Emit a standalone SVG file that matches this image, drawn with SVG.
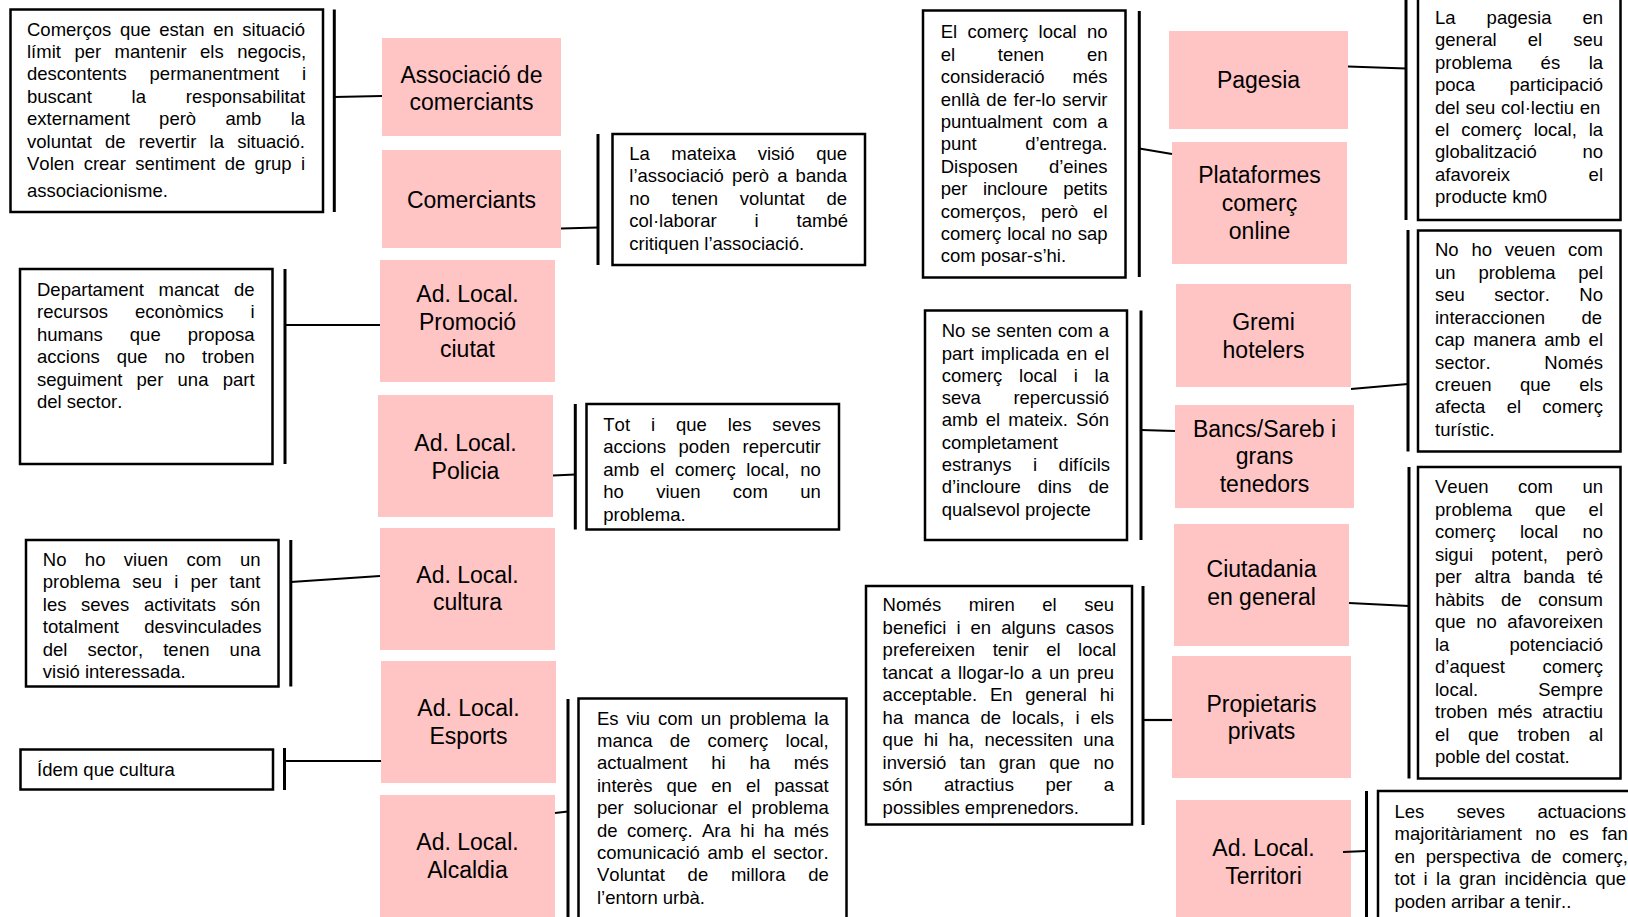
<svg xmlns="http://www.w3.org/2000/svg" width="1628" height="917" viewBox="0 0 1628 917">
<style>
.nd rect{fill:#FFC4C4}
.nd text{font-family:"Liberation Sans",Arial,sans-serif;font-size:23px;fill:#000;text-anchor:middle}
.bx rect{fill:#fff;stroke:#000;stroke-width:2.5}
.bx text{font-family:"Liberation Sans",Arial,sans-serif;font-size:18.5px;fill:#000;font-kerning:none}
.cn line{stroke:#000;stroke-width:2.2}
.cn line.br{stroke-width:3}
</style>
<rect width="1628" height="917" fill="#fff"/>

<g id="n-associacio" class="nd"><rect x="382" y="38" width="179" height="98"/><text x="471.5" y="82.5">Associació de</text><text x="471.5" y="109.5">comerciants</text></g>
<g id="n-comerciants" class="nd"><rect x="382" y="150" width="179" height="98"/><text x="471.5" y="208">Comerciants</text></g>
<g id="n-promocio" class="nd"><rect x="380" y="260" width="175" height="122"/><text x="467.5" y="301.7">Ad. Local.</text><text x="467.5" y="329.5">Promoció</text><text x="467.5" y="357.3">ciutat</text></g>
<g id="n-policia" class="nd"><rect x="378" y="395" width="175" height="122"/><text x="465.5" y="450.7">Ad. Local.</text><text x="465.5" y="478.5">Policia</text></g>
<g id="n-cultura" class="nd"><rect x="380" y="528" width="175" height="122"/><text x="467.5" y="582.5">Ad. Local.</text><text x="467.5" y="610">cultura</text></g>
<g id="n-esports" class="nd"><rect x="381" y="661" width="175" height="122"/><text x="468.5" y="716">Ad. Local.</text><text x="468.5" y="743.5">Esports</text></g>
<g id="n-alcaldia" class="nd"><rect x="380" y="795" width="175" height="130"/><text x="467.5" y="850">Ad. Local.</text><text x="467.5" y="877.7">Alcaldia</text></g>
<g id="n-pagesia" class="nd"><rect x="1169" y="31" width="179" height="98"/><text x="1258.5" y="88.3">Pagesia</text></g>
<g id="n-plataformes" class="nd"><rect x="1172" y="142" width="175" height="122"/><text x="1259.5" y="183.3">Plataformes</text><text x="1259.5" y="211">comerç</text><text x="1259.5" y="238.7">online</text></g>
<g id="n-gremi" class="nd"><rect x="1176" y="284" width="175" height="103"/><text x="1263.5" y="330">Gremi</text><text x="1263.5" y="357.7">hotelers</text></g>
<g id="n-bancs" class="nd"><rect x="1175" y="405" width="179" height="103"/><text x="1264.5" y="436.7">Bancs/Sareb i</text><text x="1264.5" y="464.3">grans</text><text x="1264.5" y="492">tenedors</text></g>
<g id="n-ciutadania" class="nd"><rect x="1174" y="524" width="175" height="122"/><text x="1261.5" y="577.3">Ciutadania</text><text x="1261.5" y="605">en general</text></g>
<g id="n-propietaris" class="nd"><rect x="1172" y="656" width="179" height="122"/><text x="1261.5" y="711.7">Propietaris</text><text x="1261.5" y="739.3">privats</text></g>
<g id="n-territori" class="nd"><rect x="1176" y="800" width="175" height="125"/><text x="1263.5" y="856">Ad. Local.</text><text x="1263.5" y="883.5">Territori</text></g>

<g id="b-associacio" class="bx"><rect x="10.5" y="9.5" width="312.5" height="202.5"/>
<text x="27" y="35.5" style="word-spacing:3.44px">Comerços que estan en situació</text>
<text x="27" y="57.9" style="word-spacing:8.33px">límit per mantenir els negocis,</text>
<text x="27" y="80.3" style="word-spacing:17.66px">descontents permanentment i</text>
<text x="27" y="102.7" style="word-spacing:34.66px">buscant la responsabilitat</text>
<text x="27" y="125.1" style="word-spacing:24.12px">externament però amb la</text>
<text x="27" y="147.5" style="word-spacing:8.06px">voluntat de revertir la situació.</text>
<text x="27" y="169.9" style="word-spacing:4.2px">Volen crear sentiment de grup i</text>
<text x="27" y="197">associacionisme.</text></g>

<g id="b-comerciants" class="bx"><rect x="612.5" y="134" width="252.5" height="131"/>
<text x="629.3" y="160" style="word-spacing:16.36px">La mateixa visió que</text>
<text x="629.3" y="182.4" style="word-spacing:2.99px">l’associació però a banda</text>
<text x="629.3" y="204.8" style="word-spacing:16.69px">no tenen voluntat de</text>
<text x="629.3" y="227.2" style="word-spacing:32.76px">col·laborar i també</text>
<text x="629.3" y="249.6">critiquen l’associació.</text></g>

<g id="b-promocio" class="bx"><rect x="20" y="269" width="252.5" height="195"/>
<text x="37" y="296" style="word-spacing:9.5px">Departament mancat de</text>
<text x="37" y="318.4" style="word-spacing:21.9px">recursos econòmics i</text>
<text x="37" y="340.8" style="word-spacing:21.86px">humans que proposa</text>
<text x="37" y="363.2" style="word-spacing:11.83px">accions que no troben</text>
<text x="37" y="385.6" style="word-spacing:9.09px">seguiment per una part</text>
<text x="37" y="408">del sector.</text></g>

<g id="b-policia" class="bx"><rect x="586.5" y="404" width="252.5" height="125.5"/>
<text x="603.3" y="431" style="word-spacing:15.79px">Tot i que les seves</text>
<text x="603.3" y="453.4" style="word-spacing:7.41px">accions poden repercutir</text>
<text x="603.3" y="475.8" style="word-spacing:5.52px">amb el comerç local, no</text>
<text x="603.3" y="498.2" style="word-spacing:27.23px">ho viuen com un</text>
<text x="603.3" y="520.6">problema.</text></g>

<g id="b-cultura" class="bx"><rect x="26" y="540" width="252.5" height="146.5"/>
<text x="42.8" y="566" style="word-spacing:13.28px">No ho viuen com un</text>
<text x="42.8" y="588.4" style="word-spacing:7.1px">problema seu i per tant</text>
<text x="42.8" y="610.8" style="word-spacing:9.46px">les seves activitats són</text>
<text x="42.8" y="633.2" style="word-spacing:20.16px">totalment desvinculades</text>
<text x="42.8" y="655.6" style="word-spacing:14.96px">del sector, tenen una</text>
<text x="42.8" y="678">visió interessada.</text></g>

<g id="b-esports" class="bx"><rect x="20.5" y="749.5" width="252.5" height="40"/>
<text x="37.1" y="775.5">Ídem que cultura</text></g>

<g id="b-alcaldia" class="bx"><rect x="578.5" y="698.5" width="268" height="230"/>
<text x="597" y="724.5" style="word-spacing:2.74px">Es viu com un problema la</text>
<text x="597" y="746.9" style="word-spacing:12.12px">manca de comerç local,</text>
<text x="597" y="769.3" style="word-spacing:18.63px">actualment hi ha més</text>
<text x="597" y="791.7" style="word-spacing:8.83px">interès que en el passat</text>
<text x="597" y="814.1" style="word-spacing:4.58px">per solucionar el problema</text>
<text x="597" y="836.5" style="word-spacing:4.18px">de comerç. Ara hi ha més</text>
<text x="597" y="858.9" style="word-spacing:2.52px">comunicació amb el sector.</text>
<text x="597" y="881.3" style="word-spacing:17.6px">Voluntat de millora de</text>
<text x="597" y="903.7">l’entorn urbà.</text></g>

<g id="b-plataformes" class="bx"><rect x="923" y="10.5" width="202.5" height="267"/>
<text x="940.7" y="38.3" style="word-spacing:5.23px">El comerç local no</text>
<text x="940.7" y="60.7" style="word-spacing:37.63px">el tenen en</text>
<text x="940.7" y="83.1" style="word-spacing:22.86px">consideració més</text>
<text x="940.7" y="105.5" style="word-spacing:1.46px">enllà de fer-lo servir</text>
<text x="940.7" y="127.9" style="word-spacing:4.76px">puntualment com a</text>
<text x="940.7" y="150.3" style="word-spacing:43.37px">punt d’entrega.</text>
<text x="940.7" y="172.7" style="word-spacing:25.95px">Disposen d’eines</text>
<text x="940.7" y="195.1" style="word-spacing:10.4px">per incloure petits</text>
<text x="940.7" y="217.5" style="word-spacing:9.9px">comerços, però el</text>
<text x="940.7" y="239.9" style="word-spacing:0.76px">comerç local no sap</text>
<text x="940.7" y="262.3">com posar-s’hi.</text></g>

<g id="b-pagesia" class="bx"><rect x="1418" y="-5" width="202.5" height="225"/>
<text x="1435" y="23.7" style="word-spacing:25.9px">La pagesia en</text>
<text x="1435" y="46.1" style="word-spacing:25.9px">general el seu</text>
<text x="1435" y="68.6" style="word-spacing:23.35px">problema és la</text>
<text x="1435" y="91" style="word-spacing:29.2px">poca participació</text>
<text x="1435" y="113.5" style="word-spacing:0.62px">del seu col·lectiu en</text>
<text x="1435" y="135.9" style="word-spacing:6.66px">el comerç local, la</text>
<text x="1435" y="158.4" style="word-spacing:40.5px">globalització no</text>
<text x="1435" y="180.8" style="word-spacing:73.4px">afavoreix el</text>
<text x="1435" y="203.3">producte km0</text></g>

<g id="b-gremi" class="bx"><rect x="1418" y="230.5" width="202.5" height="221"/>
<text x="1435" y="256.2" style="word-spacing:7.66px">No ho veuen com</text>
<text x="1435" y="278.7" style="word-spacing:17.66px">un problema pel</text>
<text x="1435" y="301.1" style="word-spacing:24.36px">seu sector. No</text>
<text x="1435" y="323.6" style="word-spacing:31.2px">interaccionen de</text>
<text x="1435" y="346" style="word-spacing:3.22px">cap manera amb el</text>
<text x="1435" y="368.5" style="word-spacing:48.7px">sector. Només</text>
<text x="1435" y="390.9" style="word-spacing:23.3px">creuen que els</text>
<text x="1435" y="413.4" style="word-spacing:16.15px">afecta el comerç</text>
<text x="1435" y="435.8">turístic.</text></g>

<g id="b-bancs" class="bx"><rect x="925" y="310.5" width="202" height="229.5"/>
<text x="941.7" y="337.2" style="word-spacing:0.71px">No se senten com a</text>
<text x="941.7" y="359.5" style="word-spacing:2.3px">part implicada en el</text>
<text x="941.7" y="381.8" style="word-spacing:11.56px">comerç local i la</text>
<text x="941.7" y="404.1" style="word-spacing:27.5px">seva repercussió</text>
<text x="941.7" y="426.4" style="word-spacing:2.99px">amb el mateix. Són</text>
<text x="941.7" y="448.7">completament</text>
<text x="941.7" y="471" style="word-spacing:16.3px">estranys i difícils</text>
<text x="941.7" y="493.3" style="word-spacing:11.66px">d’incloure dins de</text>
<text x="941.7" y="515.6">qualsevol projecte</text></g>

<g id="b-ciutadania" class="bx"><rect x="1418" y="467" width="202.5" height="311.5"/>
<text x="1435" y="493" style="word-spacing:24.36px">Veuen com un</text>
<text x="1435" y="515.5" style="word-spacing:17.66px">problema que el</text>
<text x="1435" y="538" style="word-spacing:19.2px">comerç local no</text>
<text x="1435" y="560.5" style="word-spacing:13.06px">sigui potent, però</text>
<text x="1435" y="583" style="word-spacing:7.66px">per altra banda té</text>
<text x="1435" y="605.5" style="word-spacing:11.5px">hàbits de consum</text>
<text x="1435" y="628" style="word-spacing:5.32px">que no afavoreixen</text>
<text x="1435" y="650.5" style="word-spacing:54.86px">la potenciació</text>
<text x="1435" y="673" style="word-spacing:32.3px">d’aquest comerç</text>
<text x="1435" y="695.5" style="word-spacing:54.9px">local. Sempre</text>
<text x="1435" y="718" style="word-spacing:4.82px">troben més atractiu</text>
<text x="1435" y="740.5" style="word-spacing:13.5px">el que troben al</text>
<text x="1435" y="763">poble del costat.</text></g>

<g id="b-propietaris" class="bx"><rect x="866" y="586" width="266" height="238.5"/>
<text x="882.6" y="611.3" style="word-spacing:22.3px">Només miren el seu</text>
<text x="882.6" y="633.8" style="word-spacing:4.89px">benefici i en alguns casos</text>
<text x="882.6" y="656.3" style="word-spacing:12.36px">prefereixen tenir el local</text>
<text x="882.6" y="678.8" style="word-spacing:2.28px">tancat a llogar-lo a un preu</text>
<text x="882.6" y="701.3" style="word-spacing:7.56px">acceptable. En general hi</text>
<text x="882.6" y="723.8" style="word-spacing:5.78px">ha manca de locals, i els</text>
<text x="882.6" y="746.3" style="word-spacing:5.14px">que hi ha, necessiten una</text>
<text x="882.6" y="768.8" style="word-spacing:8.23px">inversió tan gran que no</text>
<text x="882.6" y="791.3" style="word-spacing:26.4px">són atractius per a</text>
<text x="882.6" y="813.8">possibles emprenedors.</text></g>

<g id="b-territori" class="bx"><rect x="1378" y="791" width="260" height="140"/>
<text x="1394.5" y="818" style="word-spacing:27.3px">Les seves actuacions</text>
<text x="1394.5" y="840.4" style="word-spacing:8.2px">majoritàriament no es fan</text>
<text x="1394.5" y="862.8" style="word-spacing:5.46px">en perspectiva de comerç,</text>
<text x="1394.5" y="885.2" style="word-spacing:3.32px">tot i la gran incidència que</text>
<text x="1394.5" y="907.6">poden arribar a tenir..</text></g>

<g id="connectors" class="cn">
<line class="br" x1="334.3" y1="9.5" x2="334.3" y2="212"/>
<line x1="334.3" y1="97" x2="382" y2="96"/>
<line class="br" x1="598" y1="134" x2="598" y2="265"/>
<line x1="561" y1="228.5" x2="598" y2="227.5"/>
<line class="br" x1="285" y1="269" x2="285" y2="464"/>
<line x1="285" y1="325" x2="380" y2="325"/>
<line class="br" x1="575.3" y1="404" x2="575.3" y2="529.5"/>
<line x1="553" y1="475.5" x2="575.3" y2="474.5"/>
<line class="br" x1="290.8" y1="540" x2="290.8" y2="686.5"/>
<line x1="290.8" y1="582" x2="380" y2="576"/>
<line class="br" x1="284.5" y1="748" x2="284.5" y2="790"/>
<line x1="284.5" y1="761" x2="381" y2="761"/>
<line class="br" x1="568" y1="699" x2="568" y2="917"/>
<line x1="555" y1="813" x2="568" y2="811.5"/>
<line class="br" x1="1139.3" y1="11" x2="1139.3" y2="277"/>
<line x1="1139.3" y1="148.5" x2="1172" y2="154"/>
<line class="br" x1="1406" y1="0" x2="1406" y2="220"/>
<line x1="1348" y1="66.5" x2="1406" y2="68.5"/>
<line class="br" x1="1408" y1="230" x2="1408" y2="451.5"/>
<line x1="1351" y1="389" x2="1408" y2="384"/>
<line class="br" x1="1141" y1="310.5" x2="1141" y2="540"/>
<line x1="1141" y1="430" x2="1175" y2="431"/>
<line class="br" x1="1409" y1="467" x2="1409" y2="778.5"/>
<line x1="1349" y1="603" x2="1409" y2="606"/>
<line class="br" x1="1143" y1="586" x2="1143" y2="825"/>
<line x1="1143" y1="720" x2="1172" y2="720"/>
<line class="br" x1="1366.5" y1="791" x2="1366.5" y2="917"/>
<line x1="1343" y1="852" x2="1366.5" y2="851"/>
</g>
</svg>
